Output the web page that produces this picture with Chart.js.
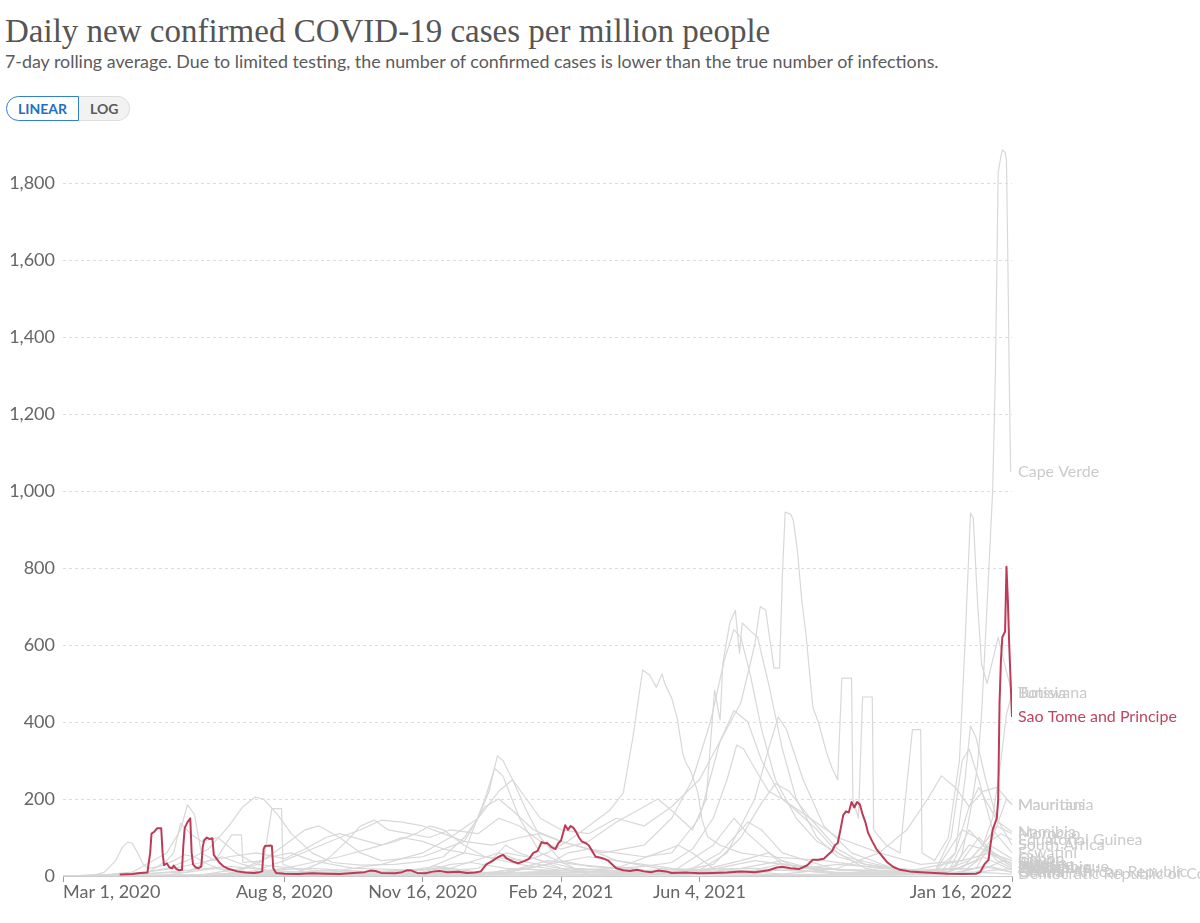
<!DOCTYPE html>
<html>
<head>
<meta charset="utf-8">
<script src="https://cdn.jsdelivr.net/npm/chart.js@4.4.1/dist/chart.umd.min.js"></script>
<style>
  html, body { margin: 0; padding: 0; background: #fff; }
  body { width: 1200px; height: 923px; position: relative; overflow: hidden; font-family: Lato, sans-serif; }
  #title { position: absolute; left: 5px; top: 13px; font-family: "Liberation Serif", serif; font-size: 33px; color: #555; white-space: nowrap; }
  #subtitle { position: absolute; left: 5px; top: 50px; font-size: 17.85px; color: #5b5b5b; white-space: nowrap; }
  .btns { position: absolute; left: 6px; top: 96px; display: flex; }
  .btn { height: 23px; line-height: 23px; font-size: 14px; font-weight: bold; padding: 0 11px; box-sizing: content-box; }
  .btn.on { color: #1f6fc5; border: 1px solid #2f7fd4; border-radius: 13px 0 0 13px; background: #fff; }
  .btn.off { color: #5a5a5a; border: 1px solid #ddd; border-left: none; border-radius: 0 13px 13px 0; background: #f2f2f2; }
  #wrap { position: absolute; left: 0; top: 130px; width: 1200px; height: 793px; }
</style>
</head>
<body>
<div id="title">Daily new confirmed COVID-19 cases per million people</div>
<div id="subtitle">7-day rolling average. Due to limited testing, the number of confirmed cases is lower than the true number of infections.</div>
<div class="btns"><div class="btn on">LINEAR</div><div class="btn off">LOG</div></div>
<div id="wrap"><canvas id="chart" width="1200" height="793"></canvas></div>
<script>
// days counted from Mar 1, 2020
const xTickDays = [0, 160, 260, 360, 460, 686];
const xTickLabels = ['Mar 1, 2020', 'Aug 8, 2020', 'Nov 16, 2020', 'Feb 24, 2021', 'Jun 4, 2021', 'Jan 16, 2022'];
const yTicks = [0, 200, 400, 600, 800, 1000, 1200, 1400, 1600, 1800];

// highlighted country, [day, cases per million]
const saoTome = [[41,4],[50,5],[56,8],[61,9],[63,60],[64,110],[66,115],[68,124],[71,124],[72,60],[73,28],[75,33],[77,22],[79,20],[80,27],[82,18],[84,15],[86,16],[87,80],[88,125],[90,140],[92,150],[93,60],[94,30],[96,22],[98,20],[100,25],[101,75],[102,93],[104,100],[106,96],[108,98],[109,55],[111,45],[113,35],[116,25],[120,18],[126,12],[132,9],[138,8],[142,10],[144,12],[145,70],[146,78],[150,79],[151,78],[152,20],[154,8],[160,6],[170,5],[180,7],[190,6],[200,5],[210,8],[218,10],[222,14],[226,13],[230,8],[240,7],[245,10],[249,15],[252,14],[256,8],[262,7],[268,12],[272,13],[278,10],[286,11],[292,8],[298,9],[302,12],[306,30],[310,38],[314,48],[318,55],[321,45],[325,38],[329,33],[333,38],[337,45],[340,60],[343,65],[346,88],[348,85],[350,86],[353,75],[356,70],[358,85],[360,92],[362,118],[363,132],[365,120],[367,130],[369,125],[371,114],[373,100],[375,90],[378,85],[380,80],[383,62],[385,50],[388,48],[391,45],[394,40],[397,30],[400,20],[405,15],[410,13],[415,16],[420,12],[425,10],[430,14],[436,12],[440,8],[450,9],[460,7],[470,8],[480,9],[490,12],[500,10],[510,15],[516,22],[520,24],[526,20],[532,18],[538,28],[542,42],[546,42],[550,45],[553,55],[556,65],[558,80],[560,85],[562,120],[564,158],[566,168],[568,165],[570,192],[572,178],[574,192],[576,186],[578,160],[580,140],[582,112],[585,90],[588,70],[592,52],[596,35],[600,24],[605,16],[612,12],[620,10],[630,8],[640,6],[650,5],[660,6],[663,10],[666,30],[669,42],[671,95],[672,120],[674,140],[675,150],[676,197],[677,450],[678,560],[679,620],[681,635],[682,803],[683,717],[684,600],[686,413]];

// other countries
const capeVerde = [[0,0],[20,0],[40,2],[60,10],[80,20],[100,35],[120,50],[140,60],[160,45],[175,70],[190,100],[200,110],[215,95],[230,80],[245,100],[260,90],[275,70],[290,60],[305,50],[320,45],[335,40],[350,60],[365,90],[380,130],[395,170],[405,215],[412,361],[419,535],[424,522],[426,509],[429,490],[433,525],[435,500],[440,462],[444,410],[448,318],[450,296],[454,270],[459,216],[462,145],[466,102],[475,80],[490,60],[510,50],[530,45],[550,40],[570,30],[590,20],[610,15],[630,12],[645,20],[650,60],[653,112],[657,190],[661,283],[664,420],[667,631],[670,850],[672,1000],[674,1306],[675,1566],[676,1826],[678,1870],[679,1886],[681,1880],[682,1860],[683,1600],[684,1300],[685,1050]];
const botswana = [[0,0],[60,0],[120,2],[150,5],[170,10],[200,15],[230,30],[260,60],[280,100],[300,150],[315,220],[325,250],[335,200],[345,150],[360,120],[380,110],[400,150],[420,130],[440,180],[460,250],[475,350],[490,450],[500,600],[504,700],[508,690],[511,613],[514,540],[518,540],[520,777],[522,945],[526,940],[528,923],[531,842],[534,717],[537,631],[542,439],[546,400],[552,320],[556,280],[560,250],[563,514],[570,514],[571,200],[575,150],[578,465],[585,465],[586,120],[595,80],[605,60],[614,380],[620,380],[621,60],[630,40],[640,100],[648,300],[652,600],[656,943],[658,930],[661,717],[664,550],[668,500],[672,560],[676,620],[680,560],[686,475]];
const tunisia = [[0,0],[30,3],[60,1],[120,0],[150,2],[170,10],[190,40],[205,90],[215,130],[225,145],[235,120],[250,110],[265,100],[280,120],[300,110],[315,150],[330,130],[345,90],[360,70],[380,90],[400,140],[420,180],[430,200],[440,170],[455,120],[465,200],[471,483],[475,405],[477,553],[482,657],[486,690],[489,579],[491,657],[494,647],[497,636],[502,621],[510,500],[520,330],[530,200],[545,100],[560,50],[580,30],[600,20],[620,15],[640,20],[655,40],[665,80],[672,150],[678,300],[682,420],[686,475]];
const namibia = [[0,0],[90,0],[120,5],[140,30],[160,80],[175,120],[185,130],[200,100],[215,60],[230,40],[260,50],[290,90],[305,180],[315,200],[325,170],[340,120],[360,90],[390,60],[420,80],[440,150],[455,250],[468,400],[478,560],[485,640],[490,620],[497,520],[505,380],[515,250],[530,150],[545,90],[565,50],[600,20],[630,10],[645,60],[655,180],[662,230],[668,190],[676,140],[686,115]];
const southAfrica = [[0,0],[15,1],[30,3],[45,5],[60,10],[75,20],[90,40],[105,70],[120,130],[130,180],[139,205],[145,200],[155,160],[165,110],[180,60],[195,35],[215,28],[240,30],[260,38],[275,50],[290,100],[300,150],[308,220],[314,312],[318,300],[325,250],[335,170],[345,100],[360,40],[380,25],[400,20],[420,25],[440,35],[455,70],[470,150],[480,250],[487,340],[492,330],[500,280],[510,220],[520,200],[530,170],[545,120],[560,60],[580,20],[600,8],[620,5],[635,10],[645,60],[652,250],[656,390],[660,360],[667,250],[675,150],[686,80]];
const mauritius = [[0,0],[30,3],[45,2],[60,0],[500,0],[520,5],[560,20],[590,60],[610,120],[625,200],[635,260],[645,230],[655,180],[665,220],[675,230],[686,185]];
const mauritania = [[0,0],[70,0],[90,10],[105,40],[115,50],[130,30],[150,10],[200,3],[260,10],[280,30],[295,35],[320,20],[400,8],[460,10],[480,25],[500,40],[520,30],[560,8],[640,3],[660,20],[670,80],[678,160],[682,200],[686,185]];
const eqGuinea = [[0,0],[20,0],[35,5],[50,10],[60,30],[75,60],[85,120],[90,185],[95,160],[100,60],[110,40],[122,107],[129,107],[130,35],[145,40],[151,175],[158,175],[159,30],[175,10],[220,5],[280,5],[320,10],[350,30],[365,60],[380,70],[400,40],[430,20],[470,10],[520,15],[550,10],[600,8],[640,10],[660,40],[670,90],[678,110],[686,94]];
const djibouti = [[0,0],[20,0],[30,10],[38,40],[43,75],[47,88],[50,85],[54,60],[58,30],[62,20],[70,25],[80,40],[88,55],[95,50],[105,30],[120,10],[150,5],[200,3],[300,5],[400,20],[430,60],[445,80],[455,60],[470,20],[520,5],[600,3],[660,10],[686,20]];
const libya = [[0,0],[100,0],[120,3],[140,15],[160,40],[180,70],[200,100],[215,120],[230,145],[245,140],[260,130],[275,110],[290,90],[310,80],[330,100],[345,110],[360,90],[380,70],[400,60],[420,50],[440,60],[460,150],[475,350],[485,430],[495,400],[505,300],[520,200],[540,150],[560,100],[590,60],[620,30],[650,40],[670,60],[686,40]];
const morocco = [[0,0],[60,2],[100,3],[140,10],[160,20],[180,35],[200,50],[220,70],[240,90],[255,110],[265,130],[275,120],[290,80],[305,50],[330,30],[360,15],[400,10],[440,10],[470,30],[490,100],[505,190],[515,240],[525,220],[540,150],[560,70],[580,30],[620,10],[650,20],[665,80],[675,130],[686,110]];
const eswatini = [[0,0],[70,0],[100,3],[130,20],[150,50],[165,60],[180,40],[210,20],[260,15],[290,60],[305,200],[312,280],[318,260],[330,150],[345,60],[370,20],[420,10],[460,15],[480,60],[500,200],[510,330],[517,413],[523,380],[535,250],[550,130],[570,60],[600,20],[630,10],[642,100],[650,300],[655,330],[662,250],[672,120],[686,60]];
const gabon = [[0,0],[60,5],[75,40],[80,60],[85,137],[92,110],[100,90],[112,100],[125,60],[140,30],[180,15],[240,5],[320,8],[350,30],[380,50],[400,40],[440,20],[480,10],[520,15],[560,30],[600,20],[640,10],[660,40],[670,80],[686,45]];
const zimbabwe = [[0,0],[120,2],[150,10],[200,5],[280,20],[315,60],[330,40],[380,5],[450,10],[475,60],[495,140],[505,120],[520,60],[560,15],[630,10],[650,120],[660,100],[675,40],[686,20]];
const zambia = [[0,0],[120,3],[150,15],[180,20],[250,5],[300,20],[320,60],[335,50],[380,10],[440,10],[470,80],[485,150],[495,110],[520,30],[600,5],[650,40],[662,100],[675,50],[686,25]];
const lesotho = [[0,0],[300,5],[320,80],[330,60],[360,20],[450,5],[490,40],[510,60],[530,20],[640,10],[655,120],[665,80],[686,30]];
const mozambique = [[0,0],[300,3],[330,20],[350,40],[370,30],[450,5],[490,20],[520,40],[540,20],[640,5],[655,80],[665,70],[686,25]];
const kenya = [[0,0],[100,1],[150,5],[250,15],[270,20],[300,8],[380,10],[400,25],[420,15],[500,20],[520,15],[600,3],[650,10],[665,50],[686,15]];
const ghana = [[0,0],[60,5],[120,25],[150,15],[200,3],[300,5],[330,20],[360,10],[500,5],[520,20],[560,5],[660,20],[670,25],[686,10]];
const algeria = [[0,0],[100,3],[150,12],[200,5],[250,15],[270,25],[300,10],[400,3],[500,15],[520,32],[560,5],[660,10],[680,40],[686,35]];
const car = [[0,0],[90,10],[110,20],[150,5],[400,2],[450,5],[500,1],[640,5],[665,25],[686,10]];
const drc = [[0,0],[200,1],[300,2],[330,5],[450,3],[480,8],[520,2],[640,3],[660,10],[686,5]];

const others = [
  ['Cape Verde', capeVerde], ['Tunisia', tunisia], ['Botswana', botswana],
  ['Mauritius', mauritius], ['Mauritania', mauritania], ['Morocco', morocco],
  ['Namibia', namibia], ['Equatorial Guinea', eqGuinea], ['South Africa', southAfrica],
  ['Eswatini', eswatini], ['Gabon', gabon], ['Libya', libya], ['Algeria', algeria],
  ['Lesotho', lesotho], ['Zambia', zambia], ['Mozambique', mozambique],
  ['Zimbabwe', zimbabwe], ['Djibouti', djibouti], ['Kenya', kenya], ['Ghana', ghana],
  ['Central African Republic', car], ['Democratic Republic of Congo', drc]
];

const toXY = pts => pts.map(p => ({ x: p[0], y: p[1] }));

const datasets = others.map(([name, pts]) => ({
  label: name,
  data: toXY(pts),
  borderColor: '#d8d8d8',
  borderWidth: 1.2,
  labelColor: '#cbcbcb',
  order: 1
}));
datasets.push({
  label: 'Sao Tome and Principe',
  data: toXY(saoTome),
  borderColor: '#bc3b57',
  borderWidth: 2,
  labelColor: '#bf4560',
  order: 0
});

// names at the end of each line
const endLabels = {
  id: 'endLabels',
  afterDatasetsDraw(chart) {
    const { ctx, chartArea, scales: { y } } = chart;
    ctx.save();
    ctx.font = '16px Lato';
    ctx.textBaseline = 'middle';
    ctx.textAlign = 'left';
    const list = chart.data.datasets.slice().sort((a, b) => b.order - a.order);
    list.forEach(ds => {
      const last = ds.data[ds.data.length - 1];
      ctx.fillStyle = ds.labelColor;
      ctx.fillText(ds.label, chartArea.right + 6, y.getPixelForValue(last.y));
    });
    ctx.restore();
  }
};

// date labels, first one left-aligned and last one right-aligned
const xLabels = {
  id: 'xLabels',
  afterDraw(chart) {
    const { ctx, chartArea, scales: { x } } = chart;
    ctx.save();
    ctx.font = '18px Lato';
    ctx.fillStyle = '#666';
    ctx.textBaseline = 'middle';
    xTickDays.forEach((d, i) => {
      ctx.textAlign = i === 0 ? 'left' : (i === xTickDays.length - 1 ? 'right' : 'center');
      ctx.fillText(xTickLabels[i], x.getPixelForValue(d), chartArea.bottom + 16);
    });
    ctx.restore();
  }
};

new Chart(document.getElementById('chart'), {
  type: 'line',
  data: { datasets },
  plugins: [endLabels, xLabels],
  options: {
    responsive: false,
    animation: false,
    layout: { padding: { top: 14.5, right: 188, left: 0, bottom: 0 } },
    elements: { point: { radius: 0 }, line: { tension: 0, borderJoinStyle: 'round' } },
    plugins: { legend: { display: false }, tooltip: { enabled: false } },
    scales: {
      x: {
        type: 'linear',
        min: 0,
        max: 686,
        afterBuildTicks: s => { s.ticks = xTickDays.map(v => ({ value: v })); },
        afterFit: s => { s.height = 47; s.paddingLeft = 0; s.paddingRight = 0; },
        ticks: { display: false },
        grid: { drawOnChartArea: false, drawTicks: true, tickLength: 6, color: '#999' },
        border: { display: true, color: '#ccc' }
      },
      y: {
        min: 0,
        max: 1900,
        afterBuildTicks: s => { s.ticks = yTicks.map(v => ({ value: v })); },
        afterFit: s => { s.width = 63; s.paddingTop = 0; s.paddingBottom = 0; },
        ticks: {
          padding: 8,
          color: '#666',
          font: { family: 'Lato', size: 18 },
          callback: v => v.toLocaleString('en-US')
        },
        grid: { drawTicks: false, color: c => (c.tick && c.tick.value === 0 ? 'rgba(0,0,0,0)' : '#dddddd') },
        border: { display: false, dash: [3, 3] }
      }
    }
  }
});
</script>
</body>
</html>
